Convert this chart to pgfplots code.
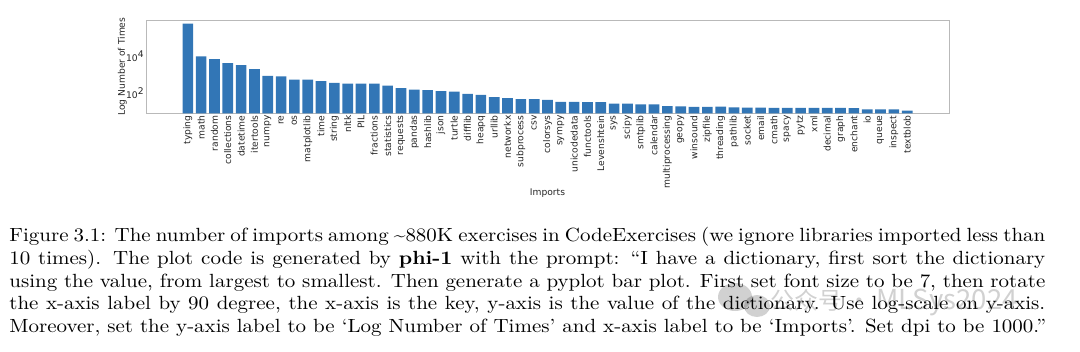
\documentclass[border=0pt]{standalone}
\usepackage{fontspec}
\usepackage{pgfplots}
\pgfplotsset{compat=1.18}
\newfontfamily\djv{DejaVu Sans}
\newfontfamily\cjk{Noto Sans CJK SC}
\definecolor{barblue}{RGB}{50,118,182}
\newcommand\capline[1]{\scalebox{1.10}[1]{\makebox[513.7pt][s]{#1}}}
\begin{document}
\begin{tikzpicture}[x=0.54545pt,y=0.54545pt]
\useasboundingbox (0,0) rectangle (1080,351);
\coordinate (A) at (146,331);
\begin{axis}[
  at={(A)}, anchor=north west,
  scale only axis, width=438pt, height=50.9pt,
  ymode=log, ymin=8.5, ymax=9.3e5,
  xmin=-3.14, xmax=57.14,
  axis line style={gray!55, line width=0.4pt},
  major tick length=0pt, minor tick length=0pt,
  xtick={0,...,54},
  xticklabels={typing,math,random,collections,datetime,itertools,numpy,re,os,matplotlib,time,string,nltk,PIL,fractions,statistics,requests,pandas,hashlib,json,turtle,difflib,heapq,urllib,networkx,subprocess,csv,colorsys,sympy,unicodedata,functools,Levenshtein,sys,scipy,smtplib,calendar,multiprocessing,geopy,winsound,zipfile,threading,pathlib,socket,email,cmath,spacy,pytz,xml,decimal,graph,enchant,io,queue,inspect,textblob},
  x tick label style={rotate=90, anchor=east, inner sep=1pt, font=\djv\fontsize{5}{6}\selectfont, text=black!85},
  ytick={100,10000},
  yticklabels={10\textsuperscript{2},10\textsuperscript{4}},
  y tick label style={anchor=east, inner sep=0.6pt, font=\djv\fontsize{5}{6}\selectfont, text=black!85},
  xlabel={Imports},
  xlabel style={at={(axis description cs:0.5,-0.854)}, anchor=center, font=\djv\fontsize{5}{6}\selectfont, text=black!85},
  ylabel={Log Number of Times},
  ylabel style={at={(axis description cs:-0.0296,0.5)}, anchor=center, font=\djv\fontsize{5}{6}\selectfont, text=black!85},
  ybar, bar width=0.8, log origin=infty,
]
\addplot[fill=barblue, draw=none] coordinates {
(0,600000) (1,10000) (2,7200) (3,4400) (4,3400) (5,2050) (6,890) (7,850) (8,560) (9,560)
(10,470) (11,380) (12,340) (13,340) (14,340) (15,265) (16,195) (17,160) (18,150) (19,135)
(20,126) (21,95) (22,85) (23,63) (24,56) (25,49) (26,49) (27,45) (28,35) (29,35)
(30,34) (31,34) (32,28) (33,28) (34,26) (35,26) (36,21) (37,20) (38,19) (39,19)
(40,19.5) (41,18) (42,17) (43,17) (44,16.5) (45,16.5) (46,16.5) (47,16.5) (48,16.5) (49,16.5)
(50,16) (51,14) (52,14) (53,14) (54,12)
};
\end{axis}
\begin{scope}[every node/.style={anchor=base west, inner sep=0pt, font=\fontsize{10.4}{12.35}\selectfont}]
\node at (9,109.3) {\capline{Figure 3.1: The number of imports among \textasciitilde 880K exercises in CodeExercises (we ignore libraries imported less than}};
\node at (9,86.6) {\capline{10 times). The plot code is generated by \textbf{phi-1} with the prompt: “I have a dictionary, first sort the dictionary}};
\node at (9,64.0) {\capline{using the value, from largest to smallest. Then generate a pyplot bar plot. First set font size to be 7, then rotate}};
\node at (9,41.3) {\capline{the x-axis label by 90 degree, the x-axis is the key, y-axis is the value of the dictionary. Use log-scale on y-axis.}};
\node at (9,18.7) {\scalebox{1.10}[1]{Moreover, set the y-axis label to be ‘Log Number of Times’ and x-axis label to be ‘Imports’. Set dpi to be 1000.”}};
\end{scope}
\fill[black, opacity=0.18] (735,54) ellipse [x radius=17, y radius=14];
\fill[black, opacity=0.18] (757,45) ellipse [x radius=13, y radius=11];
\node[anchor=west, inner sep=0pt, text=black, opacity=0.18, font=\cjk\fontsize{13}{13}\selectfont] at (770,49) {公众号 · \fontsize{15}{15}\selectfont MLSys2024};
\end{tikzpicture}
\end{document}
